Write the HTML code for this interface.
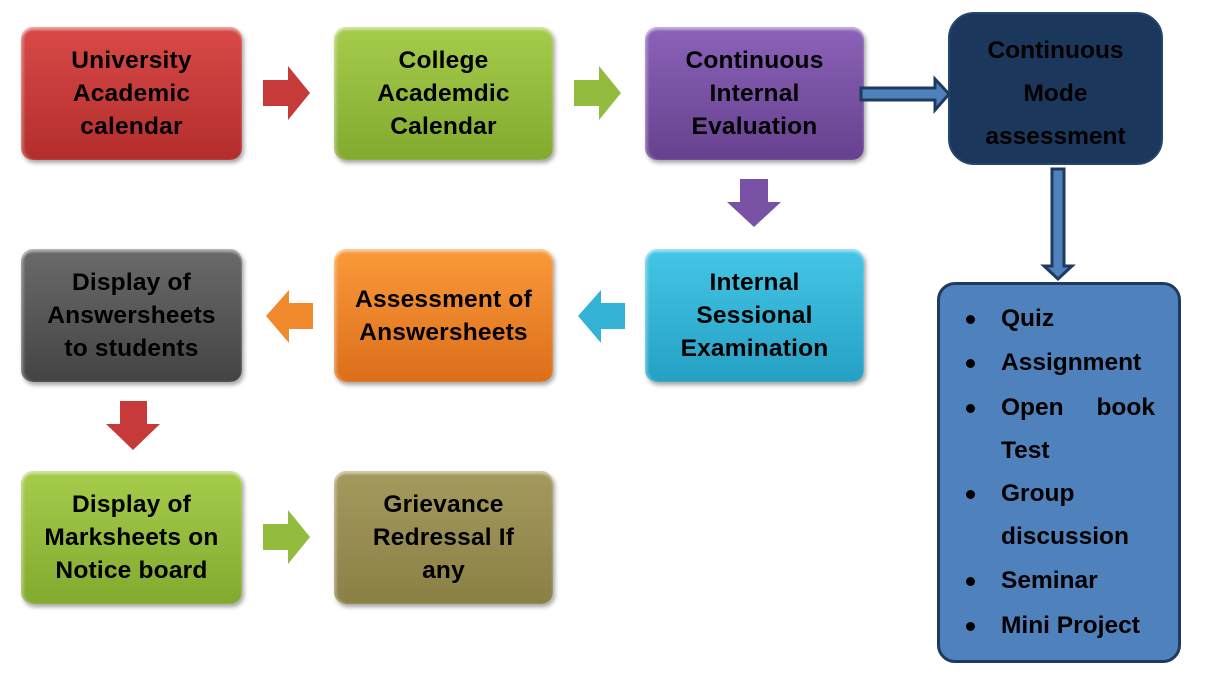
<!DOCTYPE html>
<html><head><meta charset="utf-8"><style>
body{margin:0;width:1207px;height:684px;background:#fff;position:relative;overflow:hidden;font-family:"Liberation Sans",sans-serif;font-weight:bold;color:#000}
.b{position:absolute;width:221px;height:133px;border-radius:12px;display:flex;align-items:center;justify-content:center;text-align:center;font-size:24.5px;line-height:33px;letter-spacing:0.2px;box-shadow:2px 3px 4px rgba(0,0,0,.35), inset 0 3px 2px rgba(255,255,255,.45), inset 3px 0 2px rgba(255,255,255,.25)}
.t{position:absolute;left:0;top:0}
.li{position:absolute;left:1001px;font-size:24.5px;line-height:30px;height:30px}
.bu{position:absolute;left:966px;width:9px;height:9px;border-radius:50%;background:#000}
</style></head><body>
<div class="b" style="left:21px;top:27px;background:linear-gradient(#d84a48,#b32d2c)">University<br>Academic<br>calendar</div>
<div class="b" style="left:334px;top:27px;width:219px;background:linear-gradient(#a6cc4c,#82aa2e)">College<br>Academdic<br>Calendar</div>
<div class="b" style="left:645px;top:27px;width:219px;background:linear-gradient(#8b62b8,#67418f)">Continuous<br>Internal<br>Evaluation</div>
<div class="b" style="left:645px;top:249px;width:219px;background:linear-gradient(#45c6e6,#25a0c4)">Internal<br>Sessional<br>Examination</div>
<div class="b" style="left:334px;top:249px;width:219px;background:linear-gradient(#fa9a3a,#dc6e1a)">Assessment of<br>Answersheets</div>
<div class="b" style="left:21px;top:249px;background:linear-gradient(#6a6a6a,#444)">Display of<br>Answersheets<br>to students</div>
<div class="b" style="left:21px;top:471px;background:linear-gradient(#a6cc4c,#82aa2e)">Display of<br>Marksheets on<br>Notice board</div>
<div class="b" style="left:334px;top:471px;width:219px;background:linear-gradient(#a49a5e,#8a8046)">Grievance<br>Redressal If<br>any</div>
<div style="position:absolute;left:948px;top:12px;width:211px;height:149px;background:#1b375c;border:2px solid #25466f;border-radius:26px;text-align:center;font-size:24.5px;line-height:43px;box-sizing:border-box;padding-top:15px;width:215px;height:153px">Continuous<br>Mode<br>assessment</div>
<div style="position:absolute;left:937px;top:282px;width:238px;height:375px;background:#4f81bd;border:3px solid #1f3a5f;border-radius:18px"></div>
<div class="bu" style="top:315px"></div><div class="li" style="top:304px">Quiz</div>
<div class="bu" style="top:359px"></div><div class="li" style="top:348px">Assignment</div>
<div class="bu" style="top:404px"></div><div class="li" style="top:393px;width:154px;display:flex;justify-content:space-between"><span>Open</span><span>book</span></div>
<div class="li" style="top:436px">Test</div>
<div class="bu" style="top:490px"></div><div class="li" style="top:479px">Group</div>
<div class="li" style="top:522px">discussion</div>
<div class="bu" style="top:577px"></div><div class="li" style="top:566px">Seminar</div>
<div class="bu" style="top:622px"></div><div class="li" style="top:611px">Mini Project</div>
<svg class="t" width="1207" height="684">
<polygon points="263,80 288,80 288,66 310,93 288,120 288,106 263,106" fill="#c63b39"/>
<polygon points="574,80 599,80 599,66 621,93 599,120 599,106 574,106" fill="#93bb3d"/>
<polygon points="740,179 768,179 768,202 781,202 754,227 727,202 740,202" fill="#7a52a5"/>
<polygon points="625,303 601,303 601,290 578,316 601,343 601,329 625,329" fill="#35b3d6"/>
<polygon points="313,303 289,303 289,290 266,316 289,343 289,329 313,329" fill="#f08a2c"/>
<polygon points="120,401 147,401 147,424 160,424 133,450 106,424 120,424" fill="#c63b39"/>
<polygon points="263,524 288,524 288,510 310,537 288,564 288,550 263,550" fill="#93bb3d"/>
<polygon points="861,88 935,88 935,79 949,94 935,110 935,100 861,100" fill="#4f81bd" stroke="#1f3a5f" stroke-width="3"/>
<polygon points="1052,169 1064,169 1064,266 1072,266 1058,279 1044,266 1052,266" fill="#4f81bd" stroke="#1f3a5f" stroke-width="3"/>
</svg>
</body></html>
